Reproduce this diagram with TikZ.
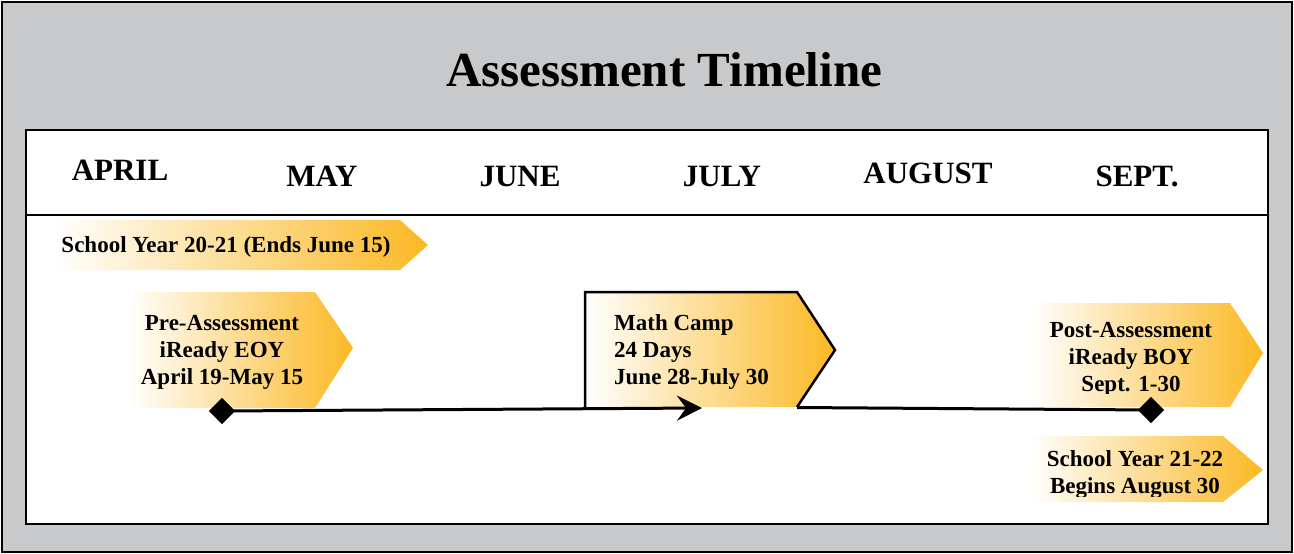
\documentclass[tikz,border=0pt]{standalone}
\usepackage{fontspec}
\setmainfont{Liberation Serif}
\usetikzlibrary{shapes.geometric,arrows.meta}
\definecolor{framegray}{HTML}{C8C9CB}
\definecolor{gold}{HTML}{FBB824}
\tikzset{
  month/.style={font=\fontsize{31}{31}\selectfont\bfseries, anchor=base, inner sep=0},
  lbl/.style={font=\fontsize{23}{27}\selectfont\bfseries, align=center, inner sep=0},
  goldfill/.style={left color=white, middle color=gold!42!white, right color=gold, shading angle=90},
  milestone/.style={diamond, fill=black, inner sep=0, minimum size=26pt},
  timeline/.style={line width=3pt, draw=black},
}
\begin{document}
\begin{tikzpicture}[x=1pt,y=-1pt]
\useasboundingbox (0,0) rectangle (1294,554);
% frame and panel
\draw[fill=framegray, line width=2.5pt] (2,2) rectangle (1292,552);
\draw[fill=white, line width=1.2pt] (26,130) rectangle (1268,524);
\draw[line width=1.2pt] (26,215) -- (1268,215);

\node[font=\fontsize{49}{49}\selectfont\bfseries, anchor=base, inner sep=0] (title) at (664,86) {Assessment Timeline};

% month headings
\node[month] (apr) at (120,180) {APRIL};
\node[month] (may) at (322,186) {MAY};
\node[month] (jun) at (520,186) {JUNE};
\node[month] (jul) at (722,186) {JULY};
\node[month] (aug) at (928,183) {AUGUST};
\node[month] (sep) at (1137,186) {SEPT.};

% school year 20-21
\shade[goldfill] (55,220) -- (400,220) -- (428,245) -- (400,270) -- (55,270) -- cycle;
\node[lbl] (sy1) at (226,247) {School Year 20-21 (Ends June 15)};

% pre-assessment
\shade[goldfill] (128,292) -- (315,292) -- (353,348) -- (315,408) -- (128,408) -- cycle;
\node[lbl] (pre) at (222,352) {Pre-Assessment\\iReady EOY\\April 19-May 15};

% math camp
\shade[goldfill] (585,292) -- (797,292) -- (835,350) -- (797,407) -- (585,407) -- cycle;
\draw[line width=2.5pt, line join=miter] (585,407) -- (585,292) -- (797,292) -- (835,350) -- (797,407);
\node[lbl, align=left, anchor=west] (camp) at (614,352) {Math Camp\\24 Days\\June 28-July 30};
\coordinate (campend) at (797,407.5);

% post-assessment
\shade[goldfill] (1030,303) -- (1230,303) -- (1263,353) -- (1230,407) -- (1030,407) -- cycle;
\begin{scope}
  \clip (1000,300) rectangle (1270,393);
  \node[lbl] (post) at (1131,359) {Post-Assessment\\iReady BOY\\Sept. 1-30};
\end{scope}

% school year 21-22
\shade[goldfill] (1030,436) -- (1223,436) -- (1263,470) -- (1223,502) -- (1030,502) -- cycle;
\begin{scope}
  \clip (1000,430) rectangle (1270,496);
  \node[lbl] (sy2) at (1135,475) {School Year 21-22\\Begins August 30};
\end{scope}

% timeline
\coordinate (arrowtip) at (702,408);
\node[milestone] (d1) at (222,411) {};
\node[milestone] (d2) at (1151,410) {};
\draw[timeline, -{Stealth[length=25pt, width=25pt, inset=9pt]}] (d1.center) -- (arrowtip);
\draw[timeline] (campend) -- (d2.center);
\node[milestone] at (d1) {};
\node[milestone] at (d2) {};
\end{tikzpicture}
\end{document}
